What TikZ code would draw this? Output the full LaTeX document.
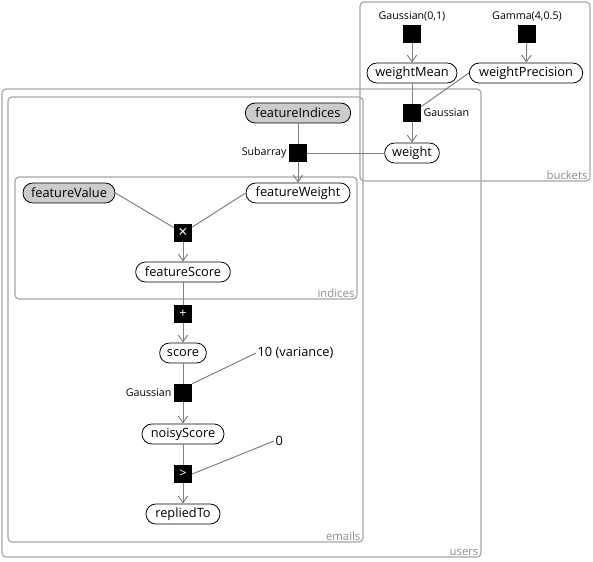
\documentclass[tikz,border=0pt]{standalone}
\usepackage{fontspec}
\setmainfont{Open Sans}
\usetikzlibrary{arrows.meta}
\begin{document}
\begin{tikzpicture}[x=0.75pt,y=-0.75pt,
  var/.style={draw=black, line width=0.6pt, rounded corners=7.4pt, minimum height=15pt, inner sep=0pt, font=\fontsize{9.6pt}{10pt}\selectfont},
  obs/.style={var, fill=black!20},
  fac/.style={fill=black, minimum size=13.5pt, inner sep=0pt, text=white, font=\fontsize{9.5pt}{9.5pt}\selectfont},
  lab/.style={font=\fontsize{8pt}{9pt}\selectfont, inner sep=1.5pt},
  txt/.style={font=\fontsize{9.6pt}{10pt}\selectfont, inner sep=1pt},
  plate/.style={draw=black!35, line width=0.9pt, rounded corners=3pt},
  platelab/.style={font=\fontsize{8.5pt}{9pt}\selectfont, text=black!45, anchor=south east, inner sep=1pt},
  edge/.style={draw=black!50, line width=0.75pt},
  arr/.style={edge, -{Straight Barb[length=5pt,width=7pt]}}
]
\useasboundingbox (0,0) rectangle (593,561);
% plates
\draw[plate] (360,2) rectangle (590,181);
\node[platelab] (lbuckets) at (589,181) {buckets};
\draw[plate] (2,89) rectangle (481,557);
\node[platelab] (lusers) at (480,557) {users};
\draw[plate] (8,97) rectangle (363,542);
\node[platelab] (lemails) at (362,542) {emails};
\draw[plate] (15,177) rectangle (357,299);
\node[platelab] (lindices) at (356,299) {indices};
% buckets
\node[lab] (g01) at (412,16) {Gaussian(0,1)};
\node[fac] (fg01) at (412,34) {};
\node[lab] (gam) at (527,16) {Gamma(4,0.5)};
\node[fac] (fgam) at (527,34) {};
\node[var, minimum width=67.5pt] (wm) at (412,73) {weightMean};
\node[var, minimum width=85pt] (wp) at (526,73) {weightPrecision};
\node[fac] (fw) at (412,113) {};
\node[lab, anchor=west] (lfw) at (fw.east) {Gaussian};
\node[var, minimum width=41pt] (w) at (412,153) {weight};
% users
\node[obs, minimum width=79pt] (fi) at (298,113) {featureIndices};
\node[fac] (fsub) at (298,153) {};
\node[lab, anchor=east] (lsub) at (fsub.west) {Subarray};
\node[var, minimum width=78pt] (fwt) at (298,193) {featureWeight};
\node[obs, minimum width=69pt] (fv) at (69,193) {featureValue};
\node[fac, font=\fontsize{12pt}{12pt}\selectfont] (ftimes) at (183,233) {×};
\node[var, minimum width=71pt] (fs) at (183,272) {featureScore};
\node[fac] (fplus) at (183,314) {+};
\node[var, minimum width=35pt] (s) at (183,353) {score};
\node[txt, anchor=west] (var10) at (256,353) {10 (variance)};
\node[fac] (fgs) at (183,393) {};
\node[lab, anchor=east] (lfgs) at (fgs.west) {Gaussian};
\node[var, minimum width=61.5pt] (ns) at (183,434) {noisyScore};
\node[txt, anchor=west] (zero) at (274,441) {0};
\node[fac] (fgt) at (183,474) {>};
\node[var, minimum width=55.5pt] (rt) at (183,514) {repliedTo};
% edges
\draw[arr] (fg01) -- (wm);
\draw[arr] (fgam) -- (wp);
\draw[edge] (wm) -- (fw);
\draw[edge] (wp.west) -- (fw);
\draw[arr] (fw) -- (w);
\draw[edge] (w.west) -- (fsub.east);
\draw[edge] (fi) -- (fsub);
\draw[arr] (fsub) -- (fwt);
\draw[edge] (fv.east) -- (ftimes);
\draw[edge] (fwt.west) -- (ftimes);
\draw[arr] (ftimes) -- (fs);
\draw[edge] (fs) -- (fplus);
\draw[arr] (fplus) -- (s);
\draw[edge] (s) -- (fgs);
\draw[edge] (var10.west) -- (fgs.north east);
\draw[arr] (fgs) -- (ns);
\draw[edge] (ns) -- (fgt);
\draw[edge] (zero.west) -- (fgt.east);
\draw[arr] (fgt) -- (rt);
\end{tikzpicture}
\end{document}
